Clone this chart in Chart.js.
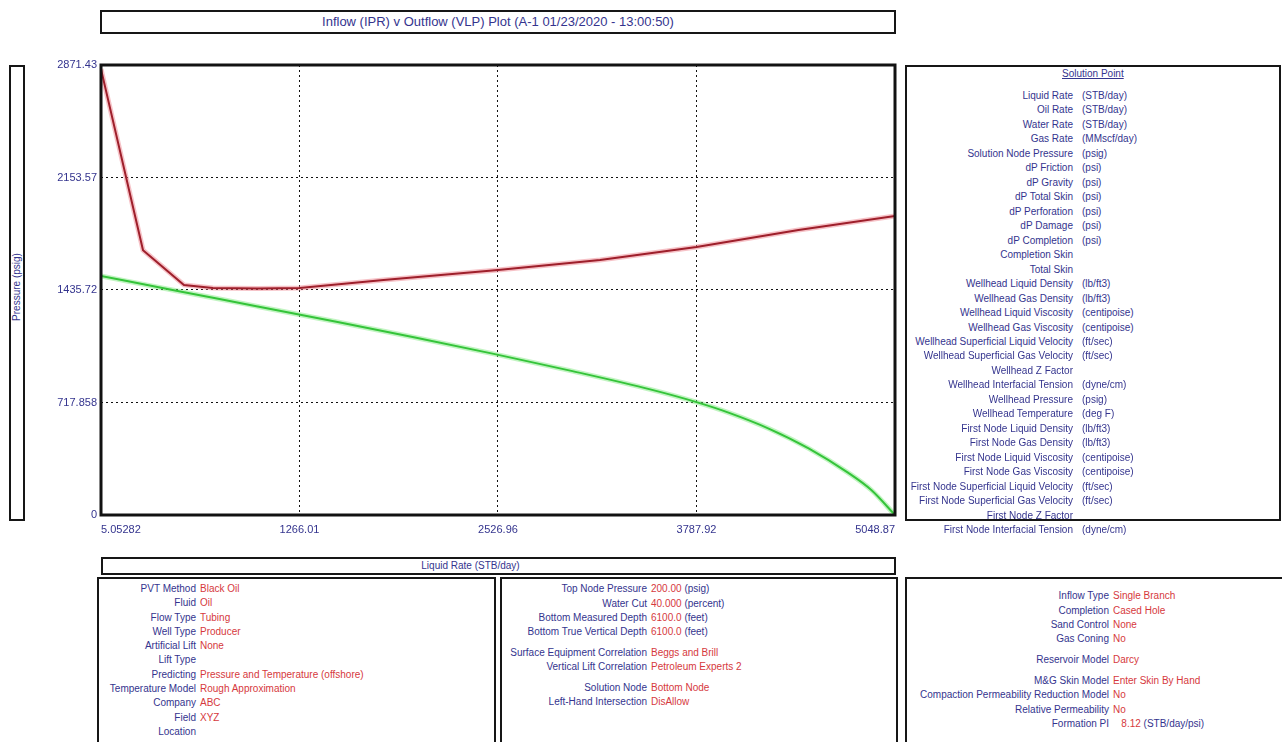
<!DOCTYPE html>
<html>
<head>
<meta charset="utf-8">
<title>IPR v VLP</title>
<script src="https://cdn.jsdelivr.net/npm/chart.js@4.4.1/dist/chart.umd.min.js"></script>
<style>
  body { margin: 0; background: #fff; width: 1282px; height: 742px; overflow: hidden; position: relative;
         font-family: "Liberation Sans Narrow", "Liberation Sans", Arial, sans-serif; }
  .box { position: absolute; border: 2px solid #161616; box-sizing: border-box; background: #fff; }
  .t { position: absolute; font-size: 10px; line-height: 12px; white-space: nowrap; }
  .navy { color: #34348e; }
  .red { color: #d6393d; }
  #chartWrap { position: absolute; left: 40px; top: 50px; width: 870px; height: 500px; }
</style>
</head>
<body>

<div class="box" style="left:100px;top:10px;width:796px;height:24px;">
  <div class="navy" style="text-align:center;font-size:13px;line-height:20px;">Inflow (IPR) v Outflow (VLP) Plot (A-1 01/23/2020 - 13:00:50)</div>
</div>

<div class="box" style="left:9px;top:65px;width:16px;height:456px;">
  <div class="navy" style="position:absolute;left:-60px;top:214px;width:132px;text-align:center;font-size:10px;line-height:12px;transform:rotate(-90deg);">Pressure (psig)</div>
</div>

<div id="chartWrap"><canvas id="ipr" width="870" height="500"></canvas></div>

<div class="box" style="left:101px;top:557px;width:795px;height:18px;">
  <div class="navy" style="text-align:center;font-size:10px;line-height:14px;padding-right:56px;">Liquid Rate (STB/day)</div>
</div>

<div class="box" style="left:905px;top:65px;width:376px;height:456px;"></div>
<div class="box" style="left:97px;top:577px;width:399px;height:180px;"></div>
<div class="box" style="left:500px;top:577px;width:398px;height:180px;"></div>
<div class="box" style="left:905px;top:577px;width:380px;height:180px;"></div>

<div id="texts"></div>

<script>
// chart data
const iprRate = [5.05282, 500, 1000, 1500, 2000, 2500, 3000, 3500, 3788, 4000, 4250, 4500, 4750, 4900, 5048.87];
const iprPressure = [1525, 1428, 1331, 1233, 1133, 1028, 918, 800, 720, 650, 550, 425, 270, 158, 0];

const vlpRate = [5.05282, 272, 532, 716, 1000, 1266, 1800, 2527, 3175, 3788, 4436, 5048.87];
const vlpPressure = [2845, 1690, 1468, 1448, 1446, 1448, 1500, 1563, 1627, 1710, 1818, 1908];

const xTickValues = [5.05282, 1266.01, 2526.96, 3787.92, 5048.87];
const xTickLabels = ["5.05282", "1266.01", "2526.96", "3787.92", "5048.87"];
const yTickValues = [0, 717.858, 1435.72, 2153.57, 2871.43];
const yTickLabels = ["0", "717.858", "1435.72", "2153.57", "2871.43"];

// side panel texts
const solutionLabels = ["Liquid Rate", "Oil Rate", "Water Rate", "Gas Rate", "Solution Node Pressure",
  "dP Friction", "dP Gravity", "dP Total Skin", "dP Perforation", "dP Damage", "dP Completion",
  "Completion Skin", "Total Skin", "Wellhead Liquid Density", "Wellhead Gas Density",
  "Wellhead Liquid Viscosity", "Wellhead Gas Viscosity", "Wellhead Superficial Liquid Velocity",
  "Wellhead Superficial Gas Velocity", "Wellhead Z Factor", "Wellhead Interfacial Tension",
  "Wellhead Pressure", "Wellhead Temperature", "First Node Liquid Density", "First Node Gas Density",
  "First Node Liquid Viscosity", "First Node Gas Viscosity", "First Node Superficial Liquid Velocity",
  "First Node Superficial Gas Velocity", "First Node Z Factor", "First Node Interfacial Tension"];
const solutionUnits = ["(STB/day)", "(STB/day)", "(STB/day)", "(MMscf/day)", "(psig)",
  "(psi)", "(psi)", "(psi)", "(psi)", "(psi)", "(psi)", "", "", "(lb/ft3)", "(lb/ft3)",
  "(centipoise)", "(centipoise)", "(ft/sec)", "(ft/sec)", "", "(dyne/cm)", "(psig)", "(deg F)",
  "(lb/ft3)", "(lb/ft3)", "(centipoise)", "(centipoise)", "(ft/sec)", "(ft/sec)", "", "(dyne/cm)"];

const leftLabels = ["PVT Method", "Fluid", "Flow Type", "Well Type", "Artificial Lift", "Lift Type",
  "Predicting", "Temperature Model", "Company", "Field", "Location"];
const leftValues = ["Black Oil", "Oil", "Tubing", "Producer", "None", "",
  "Pressure and Temperature (offshore)", "Rough Approximation", "ABC", "XYZ", ""];
const leftRows = [589, 603, 618, 632, 646, 660, 675, 689, 703, 718, 732];

const midLabels = ["Top Node Pressure", "Water Cut", "Bottom Measured Depth", "Bottom True Vertical Depth",
  "Surface Equipment Correlation", "Vertical Lift Correlation", "Solution Node", "Left-Hand Intersection"];
const midValues = [["200.00", "(psig)"], ["40.000", "(percent)"], ["6100.0", "(feet)"], ["6100.0", "(feet)"],
  ["Beggs and Brill", ""], ["Petroleum Experts 2", ""], ["Bottom Node", ""], ["DisAllow", ""]];
const midRows = [589, 604, 618, 632, 653, 667, 688, 702];

const rightLabels = ["Inflow Type", "Completion", "Sand Control", "Gas Coning", "Reservoir Model",
  "M&G Skin Model", "Compaction Permeability Reduction Model", "Relative Permeability", "Formation PI"];
const rightValues = [["Single Branch", ""], ["Cased Hole", ""], ["None", ""], ["No", ""], ["Darcy", ""],
  ["Enter Skin By Hand", ""], ["No", ""], ["No", ""], ["   8.12", "(STB/day/psi)"]];
const rightRows = [596, 611, 625, 639, 660, 681, 695, 710, 724];

const holder = document.getElementById('texts');
function put(text, cls, y, left, right) {
  if (!text) return;
  const d = document.createElement('div');
  d.className = 't ' + cls;
  d.textContent = text;
  d.style.top = (y - 6) + 'px';
  if (right !== undefined) { d.style.right = (1282 - right) + 'px'; d.style.textAlign = 'right'; }
  else d.style.left = left + 'px';
  holder.appendChild(d);
}

const title = document.createElement('div');
title.className = 't navy';
title.textContent = 'Solution Point';
title.style.cssText += 'left:1062px;top:68px;text-decoration:underline;';
holder.appendChild(title);

solutionLabels.forEach((lab, i) => {
  const y = 96 + i * 14.47;
  put(lab, 'navy', y, undefined, 1073);
  put(solutionUnits[i], 'navy', y, 1082);
});

leftLabels.forEach((lab, i) => {
  put(lab, 'navy', leftRows[i], undefined, 196);
  put(leftValues[i], 'red', leftRows[i], 200);
});

function putPair(lab, val, y, edge) {
  put(lab, 'navy', y, undefined, edge);
  const d = document.createElement('div');
  d.className = 't';
  d.style.left = (edge + 4) + 'px';
  d.style.top = (y - 6) + 'px';
  d.style.whiteSpace = 'pre';
  d.innerHTML = '<span class="red">' + val[0] + '</span>' + (val[1] ? ' <span class="navy">' + val[1] + '</span>' : '');
  holder.appendChild(d);
}
midLabels.forEach((lab, i) => putPair(lab, midValues[i], midRows[i], 647));
rightLabels.forEach((lab, i) => putPair(lab, rightValues[i], rightRows[i], 1109));

// chart
const framePlugin = {
  id: 'frame',
  afterDraw(chart) {
    const { ctx, chartArea: a } = chart;
    ctx.save();
    ctx.lineWidth = 3;
    ctx.strokeStyle = '#121212';
    ctx.strokeRect(a.left, a.top, a.right - a.left, a.bottom - a.top);
    ctx.restore();
  }
};

const toPoints = (xs, ys) => xs.map((x, i) => ({ x: x, y: ys[i] }));
const navy = '#34348e';

new Chart(document.getElementById('ipr'), {
  type: 'scatter',
  data: {
    datasets: [
      { label: 'VLP', data: toPoints(vlpRate, vlpPressure), showLine: true, borderColor: '#9e1f2b',
        borderWidth: 2, pointRadius: 0, tension: 0, order: 0 },
      { label: 'IPR', data: toPoints(iprRate, iprPressure), showLine: true, borderColor: '#35c43a',
        borderWidth: 2, pointRadius: 0, cubicInterpolationMode: 'monotone', order: 0 },
      { label: 'VLP halo', data: toPoints(vlpRate, vlpPressure), showLine: true, borderColor: 'rgba(235,120,130,0.45)',
        borderWidth: 5, pointRadius: 0, tension: 0, order: 1 },
      { label: 'IPR halo', data: toPoints(iprRate, iprPressure), showLine: true, borderColor: 'rgba(120,230,120,0.45)',
        borderWidth: 5, pointRadius: 0, cubicInterpolationMode: 'monotone', order: 1 }
    ]
  },
  options: {
    responsive: false,
    animation: false,
    layout: { padding: { left: 0, right: 15, top: 15, bottom: 7 } },
    plugins: { legend: { display: false }, tooltip: { enabled: false } },
    scales: {
      x: {
        type: 'linear', min: xTickValues[0], max: xTickValues[4],
        afterBuildTicks: s => { s.ticks = xTickValues.map(v => ({ value: v })); },
        afterFit: s => { s.height = 28; },
        ticks: { callback: (v, i) => xTickLabels[i], align: 'inner', color: navy, maxRotation: 0,
                 autoSkip: false, padding: 8, font: { family: '"Liberation Sans Narrow", "Liberation Sans", sans-serif', size: 11 } },
        grid: { color: '#111', lineWidth: 1, drawTicks: false },
        border: { display: false, dash: [2, 3] }
      },
      y: {
        type: 'linear', min: yTickValues[0], max: yTickValues[4],
        afterBuildTicks: s => { s.ticks = yTickValues.map(v => ({ value: v })); },
        afterFit: s => { s.width = 61; },
        ticks: { callback: (v, i) => yTickLabels[i], color: navy, autoSkip: false, padding: 4,
                 font: { family: '"Liberation Sans Narrow", "Liberation Sans", sans-serif', size: 11 } },
        grid: { color: '#111', lineWidth: 1, drawTicks: false },
        border: { display: false, dash: [2, 3] }
      }
    }
  },
  plugins: [framePlugin]
});
</script>
</body>
</html>
